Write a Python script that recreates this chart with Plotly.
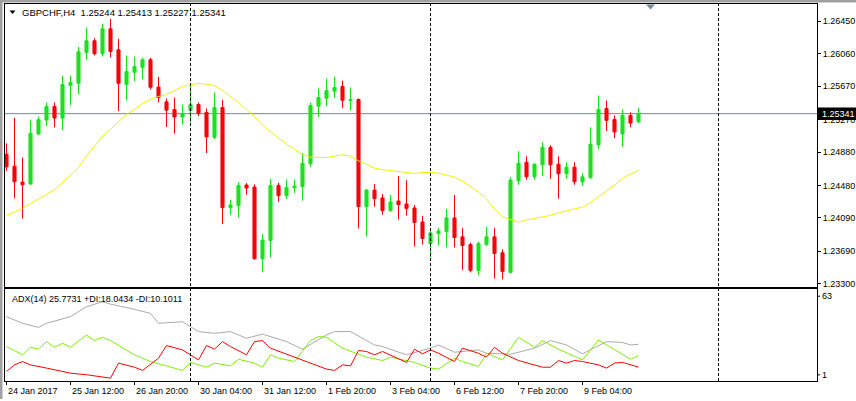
import plotly.graph_objects as go

W, H = 856, 401

# ---------------- data ----------------
bars = list(range(80))
open_ = [1.24855, 1.24711, 1.24520, 1.24497, 1.25097, 1.25264, 1.25427, 1.25288, 1.25681, 1.25705,
         1.26075, 1.26215, 1.26060, 1.26358, 1.26107, 1.25693, 1.25837, 1.25896, 1.25988, 1.25660,
         1.25483, 1.25392, 1.25300, 1.25380, 1.25451, 1.25356, 1.25057, 1.25415, 1.24214, 1.24238,
         1.24485, 1.24461, 1.23602, 1.23820, 1.24481, 1.24357, 1.24452, 1.24464, 1.24739, 1.25431,
         1.25526, 1.25610, 1.25666, 1.25499, 1.25511, 1.24226, 1.24425, 1.24330, 1.24178, 1.24294,
         1.24258, 1.24210, 1.24043, 1.23784, 1.23904, 1.23927, 1.24091, 1.23864, 1.23772, 1.23462,
         1.23769, 1.23864, 1.23673, 1.23438, 1.24536, 1.24759, 1.24584, 1.24727, 1.24938, 1.24735,
         1.24620, 1.24699, 1.24524, 1.24572, 1.24966, 1.25403, 1.25272, 1.25097, 1.25320, 1.25244]
high = [1.24986, 1.25292, 1.24815, 1.25269, 1.25308, 1.25475, 1.25475, 1.25797, 1.25797, 1.26143,
        1.26370, 1.26247, 1.26418, 1.26477, 1.26239, 1.26036, 1.26024, 1.26012, 1.26012, 1.25782,
        1.25523, 1.25535, 1.25451, 1.25702, 1.25475, 1.25403, 1.25594, 1.25507, 1.24306, 1.24520,
        1.24509, 1.24493, 1.23900, 1.24560, 1.24512, 1.24553, 1.24553, 1.24870, 1.25475, 1.25642,
        1.25761, 1.25785, 1.25738, 1.25654, 1.25523, 1.24435, 1.24497, 1.24377, 1.24365, 1.24592,
        1.24544, 1.24246, 1.24115, 1.23960, 1.23972, 1.24198, 1.24365, 1.23972, 1.23796, 1.23808,
        1.23987, 1.23972, 1.23713, 1.24580, 1.24890, 1.24831, 1.24745, 1.24998, 1.24962, 1.24831,
        1.24759, 1.24759, 1.24628, 1.25177, 1.25559, 1.25499, 1.25320, 1.25392, 1.25356, 1.25413]
low = [1.24655, 1.24326, 1.24082, 1.24488, 1.25081, 1.25192, 1.25177, 1.25145, 1.25443, 1.25571,
       1.25988, 1.26039, 1.26027, 1.26016, 1.25371, 1.25502, 1.25729, 1.25753, 1.25634, 1.25475,
       1.25180, 1.25102, 1.25213, 1.25233, 1.25312, 1.24870, 1.25034, 1.24019, 1.24127, 1.24095,
       1.24369, 1.23590, 1.23438, 1.23617, 1.24285, 1.24318, 1.24389, 1.24297, 1.24703, 1.25300,
       1.25431, 1.25531, 1.25407, 1.25383, 1.23963, 1.23868, 1.24226, 1.24130, 1.24166, 1.24071,
       1.24118, 1.23748, 1.23772, 1.23617, 1.23760, 1.23737, 1.23737, 1.23467, 1.23438, 1.23402,
       1.23757, 1.23363, 1.23355, 1.23426, 1.24488, 1.24548, 1.24548, 1.24596, 1.24560, 1.24321,
       1.24560, 1.24488, 1.24476, 1.24560, 1.24918, 1.25133, 1.25049, 1.24942, 1.25180, 1.25227]
close = [1.24703, 1.24524, 1.24488, 1.25105, 1.25269, 1.25427, 1.25288, 1.25690, 1.25714, 1.26084,
         1.26215, 1.26060, 1.26358, 1.26087, 1.25705, 1.25845, 1.25905, 1.25988, 1.25658, 1.25535,
         1.25383, 1.25300, 1.25340, 1.25451, 1.25344, 1.25061, 1.25415, 1.24214, 1.24246, 1.24481,
         1.24449, 1.23602, 1.23825, 1.24481, 1.24357, 1.24457, 1.24473, 1.24747, 1.25439, 1.25535,
         1.25618, 1.25654, 1.25502, 1.25511, 1.24226, 1.24425, 1.24321, 1.24178, 1.24282, 1.24250,
         1.24202, 1.24035, 1.23844, 1.23912, 1.23936, 1.24091, 1.23856, 1.23760, 1.23462, 1.23784,
         1.23864, 1.23665, 1.23450, 1.24544, 1.24747, 1.24584, 1.24735, 1.24938, 1.24727, 1.24620,
         1.24699, 1.24524, 1.24584, 1.24974, 1.25392, 1.25260, 1.25121, 1.25320, 1.25228, 1.25341]

ma_bar = [0, 2, 4, 6, 8, 9, 10, 11, 12, 13, 14, 15, 16, 17, 18, 19, 20, 21, 22, 23,
          24, 25, 26, 27, 28, 29, 30, 31, 32, 33, 34, 35, 36, 37, 38, 39, 40, 41, 42, 43,
          44, 45, 46, 47, 48, 49, 50, 51, 52, 53, 54, 55, 56, 57, 58, 59, 60, 61, 62, 63,
          64, 65, 66, 67, 68, 69, 70, 71, 72, 73, 74, 75, 76, 77, 78, 79]
ma_val = [1.24118, 1.24207, 1.24318, 1.24429, 1.24604, 1.24696, 1.24834, 1.24950, 1.25069, 1.25153,
          1.25248, 1.25332, 1.25392, 1.25463, 1.25511, 1.25547, 1.25571, 1.25618, 1.25666, 1.25690,
          1.25702, 1.25696, 1.25678, 1.25618, 1.25547, 1.25475, 1.25392, 1.25308, 1.25201, 1.25129,
          1.25046, 1.24974, 1.24914, 1.24855, 1.24819, 1.24815, 1.24815, 1.24831, 1.24849, 1.24831,
          1.24775, 1.24735, 1.24688, 1.24670, 1.24658, 1.24652, 1.24634, 1.24624, 1.24634, 1.24636,
          1.24628, 1.24608, 1.24580, 1.24532, 1.24461, 1.24401, 1.24318, 1.24198, 1.24103, 1.24067,
          1.24040, 1.24067, 1.24085, 1.24103, 1.24121, 1.24151, 1.24174, 1.24192, 1.24222, 1.24276,
          1.24342, 1.24413, 1.24485, 1.24565, 1.24616, 1.24664]

adx_bar = [0, 2, 4, 5, 8, 10, 12, 13, 16, 18, 19, 22, 23, 24, 26, 28, 30, 32, 35, 37,
           40, 41, 43, 46, 47, 50, 53, 54, 56, 59, 60, 63, 66, 68, 70, 72, 75, 77, 78, 79]
adx_val = [44.8, 40.2, 37.4, 40.2, 44.8, 51.6, 55.0, 53.4, 49.8, 47.0, 40.2, 41.3, 37.9, 34.5, 33.3, 34.5, 29.9, 32.8, 27.6, 22.4,
           32.2, 34.5, 34.5, 25.3, 24.2, 18.5, 23.1, 25.3, 20.3, 21.9, 19.6, 18.9, 23.1, 28.3, 25.3, 19.2, 27.6, 27.0, 25.3, 25.77]

pdi_bar = [0, 2, 3, 4, 5, 6, 7, 8, 10, 11, 12, 13, 16, 18, 20, 22, 23, 25, 26, 28,
           29, 31, 32, 33, 34, 36, 38, 39, 40, 42, 45, 47, 48, 51, 53, 54, 56, 57, 59, 60,
           62, 64, 66, 67, 69, 72, 74, 76, 78, 79]
pdi_val = [24.2, 18.5, 23.7, 22.4, 27.6, 23.7, 26.5, 23.7, 32.2, 28.3, 30.6, 28.3, 18.5, 13.9, 10.9, 7.8, 13.3, 10.0, 12.8, 10.9,
           15.5, 12.8, 10.0, 18.5, 16.2, 13.9, 28.3, 31.1, 30.6, 23.1, 16.9, 14.6, 16.9, 13.3, 9.4, 8.7, 16.2, 13.9, 10.5, 19.6,
           15.0, 30.6, 23.7, 28.3, 22.4, 15.0, 28.7, 21.9, 15.5, 18.04]

mdi_bar = [0, 1, 2, 3, 5, 8, 10, 13, 14, 16, 17, 19, 20, 22, 24, 25, 26, 27, 28, 30,
           31, 32, 33, 37, 40, 41, 42, 43, 44, 45, 46, 47, 50, 51, 52, 53, 54, 56, 57, 59,
           60, 61, 62, 64, 67, 68, 69, 70, 71, 72, 74, 75, 76, 77, 79]
mdi_val = [7.1, 11.6, 13.9, 11.6, 9.4, 5.9, 4.8, 2.5, 12.8, 10.0, 7.8, 16.2, 24.9, 21.9, 15.0, 24.9, 22.4, 27.6, 24.2, 18.5,
           27.6, 28.3, 23.1, 15.0, 8.7, 7.8, 11.6, 10.9, 21.5, 20.8, 18.5, 20.8, 13.3, 22.4, 19.2, 21.9, 19.6, 13.9, 23.1, 19.6,
           16.9, 23.7, 19.6, 14.6, 10.0, 10.0, 14.6, 12.8, 14.6, 13.9, 11.6, 9.4, 12.8, 13.3, 10.10]

tick_bars = [0, 8, 16, 24, 32, 40, 48, 56, 64, 72]
tick_labels = ["24 Jan 2017", "25 Jan 12:00", "26 Jan 20:00", "30 Jan 04:00", "31 Jan 12:00",
               "1 Feb 20:00", "3 Feb 04:00", "6 Feb 12:00", "7 Feb 20:00", "9 Feb 04:00"]
price_ticks = [1.26450, 1.26060, 1.25670, 1.25270, 1.24880, 1.24480, 1.24090, 1.23690, 1.23300]
separator_bars = [23, 53, 89]
current_price = 1.25341
title_text = "GBPCHF,H4  1.25244 1.25413 1.25227 1.25341"
adx_text = "ADX(14) 25.7731 +DI:18.0434 -DI:10.1011"
adx_scale_labels = ["63", "1"]

# ---------------- helpers (pixel -> paper) ----------------
def px(x):
    return x / W

def py(y):
    return 1 - y / H

FONT = "Liberation Sans, Arial, sans-serif"
X_LEFT, X_RIGHT = 5, 817
MAIN_TOP, MAIN_BOT = 4, 288
ADX_TOP, ADX_BOT = 290, 383
X_RANGE = [(X_LEFT - 6.5) / 8, (X_RIGHT - 6.5) / 8]

fig = go.Figure()

fig.add_trace(go.Candlestick(
    x=bars, open=open_, high=high, low=low, close=close,
    increasing=dict(line=dict(color="#14e614", width=1), fillcolor="#22dd22"),
    decreasing=dict(line=dict(color="#ff0000", width=1), fillcolor="#ff0000"),
    whiskerwidth=0, xaxis="x", yaxis="y", hoverinfo="skip", showlegend=False,
))
fig.add_trace(go.Scatter(x=ma_bar, y=ma_val, mode="lines", line=dict(color="#f2f200", width=1),
                         xaxis="x", yaxis="y", hoverinfo="skip", showlegend=False))

fig.add_trace(go.Scatter(x=adx_bar, y=adx_val, mode="lines", line=dict(color="#a9a9a9", width=1),
                         xaxis="x2", yaxis="y2", hoverinfo="skip", showlegend=False))
fig.add_trace(go.Scatter(x=pdi_bar, y=pdi_val, mode="lines", line=dict(color="#7cf000", width=1),
                         xaxis="x2", yaxis="y2", hoverinfo="skip", showlegend=False))
fig.add_trace(go.Scatter(x=mdi_bar, y=mdi_val, mode="lines", line=dict(color="#ff0000", width=1),
                         xaxis="x2", yaxis="y2", hoverinfo="skip", showlegend=False))

axis_common = dict(showgrid=False, zeroline=False, showline=True, mirror=True,
                   linecolor="black", linewidth=1)

shapes = []
# window frame (gray)
shapes.append(dict(type="rect", xref="paper", yref="paper", x0=0, x1=1, y0=py(2.5), y1=1,
                   fillcolor="#a0a0a0", line=dict(width=0), layer="below"))
shapes.append(dict(type="rect", xref="paper", yref="paper", x0=0, x1=px(2.5), y0=0, y1=1,
                   fillcolor="#a0a0a0", line=dict(width=0), layer="below"))
# current price line
shapes.append(dict(type="line", xref="paper", yref="y", x0=px(X_LEFT), x1=px(X_RIGHT),
                   y0=current_price, y1=current_price, line=dict(color="#778899", width=1), layer="below"))
# period separators
for b in separator_bars:
    shapes.append(dict(type="line", xref="x", yref="paper", x0=b, x1=b,
                       y0=py(ADX_BOT), y1=py(MAIN_TOP),
                       line=dict(color="black", width=1, dash="3px,2px")))
# current price box
shapes.append(dict(type="rect", xref="paper", yref="paper", x0=px(818), x1=1,
                   y0=py(120.5), y1=py(108), fillcolor="black", line=dict(width=0)))
# shift marker triangle
shapes.append(dict(type="path", xref="paper", yref="paper",
                   path=f"M {px(646)} {py(4.5)} L {px(655)} {py(4.5)} L {px(650.5)} {py(9.5)} Z",
                   fillcolor="#778899", line=dict(width=0)))
# title dropdown triangle
shapes.append(dict(type="path", xref="paper", yref="paper",
                   path=f"M {px(9.5)} {py(10.5)} L {px(15.5)} {py(10.5)} L {px(12.5)} {py(14)} Z",
                   fillcolor="black", line=dict(width=0)))
# ADX scale ticks
for yy in (297.7, 376.7):
    shapes.append(dict(type="line", xref="paper", yref="paper", x0=px(X_RIGHT), x1=px(X_RIGHT + 3),
                       y0=py(yy), y1=py(yy), line=dict(color="black", width=1)))

annotations = []
annotations.append(dict(text=title_text, xref="paper", yref="paper", x=px(21), y=py(12.7),
                        xanchor="left", yanchor="middle", showarrow=False, borderpad=0,
                        font=dict(family=FONT, size=9.5, color="black")))
annotations.append(dict(text=adx_text, xref="paper", yref="paper", x=px(11), y=py(300),
                        xanchor="left", yanchor="middle", showarrow=False, borderpad=0,
                        font=dict(family=FONT, size=9, color="black")))
annotations.append(dict(text=f"{current_price:.5f}", xref="paper", yref="y", x=px(821), y=current_price,
                        xanchor="left", yanchor="middle", showarrow=False, borderpad=0,
                        font=dict(family=FONT, size=9, color="white")))
for lab, yy in zip(adx_scale_labels, (297.7, 376.7)):
    annotations.append(dict(text=lab, xref="paper", yref="paper", x=px(821), y=py(yy),
                            xanchor="left", yanchor="middle", showarrow=False, borderpad=0,
                            font=dict(family=FONT, size=9, color="black")))
for b, lab in zip(tick_bars, tick_labels):
    annotations.append(dict(text=lab, xref="x2", yref="paper", x=b, y=py(393),
                            xanchor="left", yanchor="middle", showarrow=False, borderpad=0,
                            font=dict(family=FONT, size=9, color="black")))

fig.update_layout(
    width=W, height=H, margin=dict(l=0, r=0, t=0, b=0),
    paper_bgcolor="white", plot_bgcolor="white",
    boxgap=0.45,
    showlegend=False,
    xaxis=dict(domain=[px(X_LEFT), px(X_RIGHT)], range=X_RANGE, anchor="y",
               showticklabels=False, ticks="", rangeslider=dict(visible=False), **axis_common),
    yaxis=dict(domain=[py(MAIN_BOT), py(MAIN_TOP)], range=[1.26704 - 0.00011932 * MAIN_BOT,
                                                            1.26704 - 0.00011932 * MAIN_TOP],
               side="right", anchor="x", tickvals=price_ticks,
               ticktext=[f"{v:.5f}" for v in price_ticks],
               ticks="outside", ticklen=3, tickcolor="black",
               tickfont=dict(family=FONT, size=9, color="black"), **axis_common),
    xaxis2=dict(domain=[px(X_LEFT), px(X_RIGHT)], range=X_RANGE, anchor="y2",
                tickvals=tick_bars, ticks="outside", ticklen=3, tickcolor="black",
                showticklabels=False, **axis_common),
    yaxis2=dict(domain=[py(ADX_BOT), py(ADX_TOP)], range=[0.45, 64.1], anchor="x2",
                side="right", showticklabels=False, ticks="", **axis_common),
    shapes=shapes, annotations=annotations,
)

fig.write_html("out.html")
